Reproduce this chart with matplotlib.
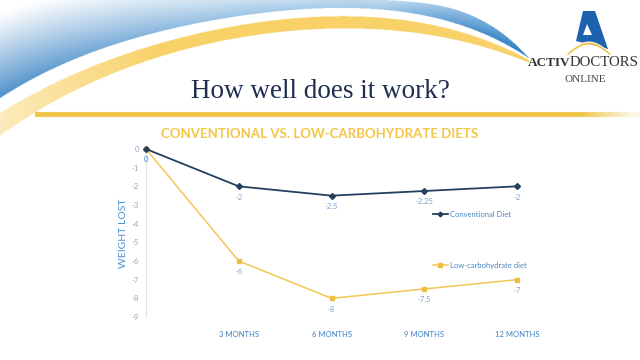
import numpy as np
import matplotlib
matplotlib.use("Agg")
import matplotlib.pyplot as plt
from matplotlib.patches import Polygon

# ---------------- data ----------------
categories = ["", "3 MONTHS", "6 MONTHS", "9 MONTHS", "12 MONTHS"]
conventional = [0, -2, -2.5, -2.25, -2]
low_carb = [0, -6, -8, -7.5, -7]
conv_labels = ["0", "-2", "-2.5", "-2.25", "-2"]
low_labels = ["0", "-6", "-8", "-7.5", "-7"]
yticks = list(range(-9, 1))

W, H = 640, 360
fig = plt.figure(figsize=(6.4, 3.6), dpi=100)
fig.patch.set_facecolor("white")

# ---------------- background decoration ----------------
bg = fig.add_axes([0, 0, 1, 1])
bg.set_xlim(0, W)
bg.set_ylim(H, 0)
bg.axis("off")

S = 2
xs = (np.arange(W * S) + 0.5) / S
ys = (np.arange(H * S) + 0.5) / S
X, Y = np.meshgrid(xs, ys)


def fitcurve(px, py, x, deg=4):
    px = np.asarray(px, float) / 530.0
    c = np.polyfit(px, py, deg)
    return np.polyval(c, np.clip(x, 0, 530) / 530.0)


img = np.ones((H * S, W * S, 3))

# blue band
yb = fitcurve([0, 100, 200, 300, 380, 433, 480, 528],
              [98, 50, 22, 9, 11, 17, 31, 58], xs)
yt = np.where(xs < 385, -100,
              fitcurve([385, 410, 433, 460, 480, 505, 528], [0, 2, 4, 11, 20, 35, 57], xs, 3))
D = np.interp(xs, [0, 100, 200, 300, 400, 528], [85, 60, 40, 30, 30, 60])
cx = [0, 100, 200, 300, 380, 450, 500, 528]
cr = np.interp(xs, cx, [80, 118, 150, 168, 160, 100, 55, 40])
cg = np.interp(xs, cx, [145, 170, 192, 204, 200, 160, 135, 125])
cb = np.interp(xs, cx, [202, 215, 226, 233, 232, 215, 200, 195])
bcol = np.stack([cr, cg, cb], axis=-1)[None, :, :] / 255
d = yb[None, :] - Y
alpha_b = np.clip(1 - d / D[None, :], 0, 1) ** 1.1
alpha_b[(Y > yb[None, :]) | (Y < yt[None, :])] = 0
alpha_b[:, xs > 529] = 0
img = img * (1 - alpha_b[..., None]) + bcol * alpha_b[..., None]

# yellow band
ytop = fitcurve([0, 50, 100, 200, 300, 380, 433, 480, 528],
                [112, 88, 62, 32, 19, 18, 25, 37, 60], xs)
ybot = fitcurve([0, 50, 100, 200, 300, 380, 433, 480, 528],
                [135, 105, 78, 45, 32, 28, 35, 47, 62], xs)
ybot = np.maximum(ybot, ytop + 0.8)
alpha_y = ((Y >= ytop[None, :]) & (Y <= ybot[None, :])).astype(float)
alpha_y[:, xs > 529] = 0
alpha_y *= (0.45 + 0.55 * np.clip(xs / 160, 0, 1))[None, :]
yellow = np.array([248, 210, 105]) / 255
img = img * (1 - alpha_y[..., None]) + yellow * alpha_y[..., None]

# title underline bar
alpha_l = ((Y >= 112) & (Y <= 117) & (X >= 35)).astype(float)
alpha_l *= np.clip((640 - X) / 60, 0.15, 1)
bar = np.array([240, 196, 70]) / 255
img = img * (1 - alpha_l[..., None]) + bar * alpha_l[..., None]

bg.imshow(img, extent=(0, W, H, 0), interpolation="antialiased", zorder=0, aspect="auto")

# logo
bg.add_patch(Polygon([(583, 11), (595, 11), (608, 49), (576, 41)], closed=True,
                     facecolor="#1C62AE", edgecolor="none", zorder=2))
bg.add_patch(Polygon([(587, 24), (583, 35), (592, 35)], closed=True,
                     facecolor="white", edgecolor="none", zorder=3))
t = np.linspace(0, 1, 40)
sx = 567 + 43 * t
sy = 53 - 11 * np.sin(np.pi * t)
bg.fill_between(sx, sy - 1.0, sy + 2.0, color="white", zorder=3.5, lw=0)
bg.fill_between(sx, sy, sy + 2.0, color="#F2C443", zorder=4, lw=0)
bg.text(570, 63, "ACTIV", fontsize=9.5, family="Liberation Serif", weight="bold",
        color="#333333", ha="right", va="center", zorder=5)
bg.text(570, 63, "DOCTORS", fontsize=10.6, family="Liberation Serif",
        color="#333333", ha="left", va="center", zorder=5)
bg.text(585, 80, "ONLINE", fontsize=8, family="Liberation Serif",
        color="#444444", ha="center", va="center", zorder=5)

# slide title
bg.text(320, 98, "How well does it work?", fontsize=19.5, family="Liberation Serif",
        color="#1F2E50", ha="center", va="baseline", zorder=5)

# chart title
bg.text(320, 134, "CONVENTIONAL VS. LOW-CARBOHYDRATE DIETS", fontsize=9.5,
        family="Lato", weight="bold", color="#F4C647", ha="center", va="center", zorder=5)

# y label
bg.text(123, 233, "WEIGHT LOST", fontsize=7.5, family="Lato", color="#4A8ED2",
        rotation=90, ha="center", va="center", zorder=5)

# ---------------- chart ----------------
left_px, right_px = 146, 146 + 4.5 * 92.75
top_px, bot_px = 149, 317
ax = fig.add_axes([left_px / W, 1 - bot_px / H, (right_px - left_px) / W, (bot_px - top_px) / H])
ax.patch.set_alpha(0)
ax.set_xlim(0, 4.5)
ax.set_ylim(-9, 0)

xi = np.arange(len(categories))
ax.plot(xi, conventional, color="#243F60", lw=1.3, marker="D", ms=3, clip_on=False,
        label="Conventional Diet", zorder=4)
ax.plot(xi, low_carb, color="#F4C653", lw=1.1, marker="s", ms=3.2, mfc="#EDBE45",
        mec="#EDBE45", clip_on=False, label="Low-carbohydrate diet", zorder=3)

for x, v, s in zip(xi, conventional, conv_labels):
    ax.annotate(s, (x, v), xytext=(0, -11), textcoords="offset pixels", ha="center",
                va="center", fontsize=5.5, color="#7BA3D4", family="Lato")
for x, v, s in zip(xi, low_carb, low_labels):
    ax.annotate(s, (x, v), xytext=(0, -11), textcoords="offset pixels", ha="center",
                va="center", fontsize=5.5, color="#7BA3D4", family="Lato")

for sp in ["top", "right", "bottom"]:
    ax.spines[sp].set_visible(False)
ax.spines["left"].set_color("#DCE4EE")
ax.spines["left"].set_linewidth(0.8)

ax.set_yticks(yticks)
ax.set_yticklabels([str(v) for v in yticks])
ax.set_xticks(xi[1:])
ax.set_xticklabels(categories[1:])
ax.tick_params(axis="y", length=0, pad=5, labelsize=5.5, labelcolor="#8EA6C4")
ax.tick_params(axis="x", length=0, pad=10, labelsize=5.5, labelcolor="#3C7FC4")
for lab in ax.get_xticklabels() + ax.get_yticklabels():
    lab.set_family("Lato")

leg = ax.legend(loc="upper left", bbox_to_anchor=(433 / W, 1 - 211 / H),
                bbox_transform=fig.transFigure, frameon=False, fontsize=5.5,
                labelspacing=5.7, handlelength=1.9, handletextpad=0.3,
                borderpad=0, borderaxespad=0, markerscale=0.8)
for txt in leg.get_texts():
    txt.set_color("#4A86C5")
    txt.set_family("Lato")

fig.savefig("out.png", dpi=100)
